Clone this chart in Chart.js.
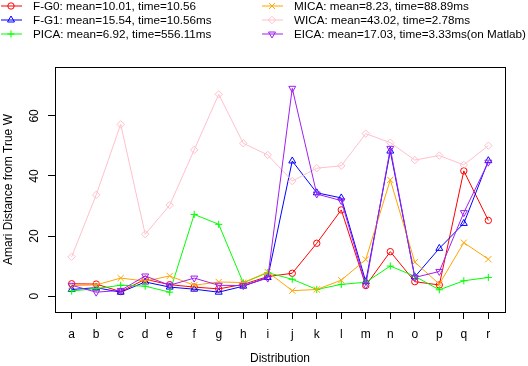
<!DOCTYPE html>
<html>
<head>
<meta charset="utf-8">
<script src="https://cdn.jsdelivr.net/npm/chart.js@4.4.1/dist/chart.umd.min.js"></script>
<style>
    html, body { margin: 0; padding: 0; background: #fff; }
    #wrap { position: relative; width: 528px; height: 366px; }
    #legend { position: absolute; left: 0; top: 0; width: 528px; height: 42px;
              font: 11.7px "Liberation Sans", Arial, sans-serif; color: #000; }
    .item { position: absolute; height: 14px; line-height: 14px; white-space: nowrap; }
    .item svg { position: absolute; left: 0; top: 0; }
    .item span { position: absolute; left: 33px; top: 0; }
</style>
</head>
<body>
<div id="wrap">
    <canvas id="chart" width="528" height="366"></canvas>
    <div id="legend"></div>
</div>
<script>
const CATEGORIES = ['a', 'b', 'c', 'd', 'e', 'f', 'g', 'h', 'i', 'j', 'k', 'l', 'm', 'n', 'o', 'p', 'q', 'r'];
const Y_TICKS = [0, 20, 40, 60];

const FG0  = [4.1, 4.0, 1.5, 5.6, 3.8, 3.0, 2.4, 3.9, 6.5, 7.6, 17.6, 28.7, 3.5, 14.8, 4.8, 3.7, 41.7, 25.2];
const FG1  = [2.2, 2.8, 1.3, 4.7, 3.0, 2.3, 1.3, 3.3, 6.2, 45.0, 34.4, 32.7, 4.8, 48.3, 6.4, 15.9, 24.2, 45.1];
const PICA = [1.7, 2.5, 3.6, 3.3, 1.3, 27.2, 23.9, 4.4, 7.8, 5.6, 2.2, 3.9, 4.6, 10.0, 6.6, 2.1, 5.1, 6.2];
const MICA = [3.5, 3.7, 6.0, 5.0, 6.7, 3.6, 4.7, 4.5, 8.0, 1.8, 2.2, 5.3, 12.2, 38.7, 11.3, 4.0, 17.8, 12.3];
const WICA = [13.1, 33.7, 57.2, 20.6, 30.3, 48.7, 67.2, 50.9, 47.0, 38.3, 42.6, 43.4, 54.1, 51.1, 45.3, 46.8, 43.7, 50.1];
const EICA = [3.6, 1.3, 1.9, 6.7, 3.6, 6.0, 3.6, 3.5, 6.0, 69.2, 34.0, 31.8, 3.7, 49.2, 6.2, 8.2, 27.8, 44.6];

const SERIES_NAMES = [
    'F-G0: mean=10.01, time=10.56',
    'F-G1: mean=15.54, time=10.56ms',
    'PICA: mean=6.92, time=556.11ms',
    'MICA: mean=8.23, time=88.89ms',
    'WICA: mean=43.02, time=2.78ms',
    'EICA: mean=17.03, time=3.33ms(on Matlab)'
];
const SERIES_VALUES = [FG0, FG1, PICA, MICA, WICA, EICA];

const SERIES_COLORS = [
    '#ff0000', // red
    '#0000ff', // blue
    '#00ff00', // green
    '#ffa500', // orange
    '#ffc0cb', // pink
    '#a020f0'  // purple
];
const POINT_STYLES = ['circle', 'triangle', 'cross', 'crossRot', 'rectRot', 'triangle'];
const POINT_RADII = [3.2, 4, 3.6, 4.4, 3.7, 4];
const POINT_ROT = [0, 0, 0, 0, 0, 180];

// little svg icons for the html legend (line + marker)
const ICONS = [
    c => `<circle cx="11" cy="7" r="3.2" fill="none" stroke="${c}"/>`,
    c => `<polygon points="11,3 14.5,9 7.5,9" fill="none" stroke="${c}"/>`,
    c => `<path d="M7.4 7H14.6M11 3.4V10.6" stroke="${c}"/>`,
    c => `<path d="M8 4L14 10M14 4L8 10" stroke="${c}"/>`,
    c => `<polygon points="11,3.3 14.7,7 11,10.7 7.3,7" fill="none" stroke="${c}"/>`,
    c => `<polygon points="11,11 14.5,5 7.5,5" fill="none" stroke="${c}"/>`
];

function renderLegend() {
    const legend = document.getElementById('legend');
    const cols = [0, 261];
    const rows = [-1, 13, 26.5];
    legend.innerHTML = SERIES_NAMES.map((name, i) => {
        const col = cols[Math.floor(i / 3)];
        const row = rows[i % 3];
        const c = SERIES_COLORS[i];
        return `
            <div class="item" style="left:${col}px;top:${row}px">
                <svg width="24" height="14"><path d="M1 7H22" stroke="${c}"/>${ICONS[i](c)}</svg>
                <span>${name}</span>
            </div>`;
    }).join('');
}

const frame = {
    id: 'frame',
    afterDraw(chart) {
        const { ctx, chartArea: a } = chart;
        ctx.save();
        ctx.strokeStyle = '#000';
        ctx.lineWidth = 1;
        ctx.strokeRect(Math.round(a.left) + 0.5, Math.round(a.top) + 0.5,
                       Math.round(a.right - a.left), Math.round(a.bottom - a.top));
        ctx.restore();
    }
};

const font = { family: '"Liberation Sans", Arial, sans-serif', size: 12 };

new Chart(document.getElementById('chart'), {
    type: 'line',
    data: {
        datasets: SERIES_VALUES.map((vals, i) => ({
            label: SERIES_NAMES[i],
            data: vals.map((v, k) => ({ x: k, y: v })),
            borderColor: SERIES_COLORS[i],
            backgroundColor: 'rgba(0,0,0,0)',
            pointBackgroundColor: 'rgba(0,0,0,0)',
            pointBorderColor: SERIES_COLORS[i],
            borderWidth: 1,
            pointBorderWidth: 1,
            pointStyle: POINT_STYLES[i],
            pointRadius: POINT_RADII[i],
            pointRotation: POINT_ROT[i],
            tension: 0,
            order: SERIES_VALUES.length - i
        }))
    },
    options: {
        responsive: false,
        animation: false,
        layout: { padding: { top: 67, right: 23, bottom: 0, left: 0 } },
        plugins: {
            legend: { display: false },
            tooltip: { enabled: false }
        },
        scales: {
            x: {
                type: 'linear',
                min: -0.68,
                max: 17.68,
                afterFit: s => { s.height = 54; },
                afterBuildTicks: s => { s.ticks = CATEGORIES.map((c, i) => ({ value: i })); },
                border: { display: false },
                grid: { drawOnChartArea: false, drawTicks: true, tickLength: 7, color: '#000' },
                ticks: {
                    autoSkip: false, maxRotation: 0, color: '#000', font, padding: 8,
                    callback: v => CATEGORIES[v]
                },
                title: { display: true, text: 'Distribution', color: '#000', font, padding: { top: 0, bottom: 0 } }
            },
            y: {
                min: -5.3,
                max: 76.3,
                afterFit: s => { s.width = 55; },
                afterBuildTicks: s => { s.ticks = Y_TICKS.map(v => ({ value: v })); },
                border: { display: false },
                grid: { drawOnChartArea: false, drawTicks: true, tickLength: 7, color: '#000' },
                ticks: {
                    color: '#000', font, padding: 7, minRotation: 90, maxRotation: 90,
                    crossAlign: 'center'
                },
                title: { display: true, text: 'Amari Distance from True W', color: '#000', font, padding: { top: 1, bottom: 0 } }
            }
        }
    },
    plugins: [frame]
});

renderLegend();
</script>
</body>
</html>
